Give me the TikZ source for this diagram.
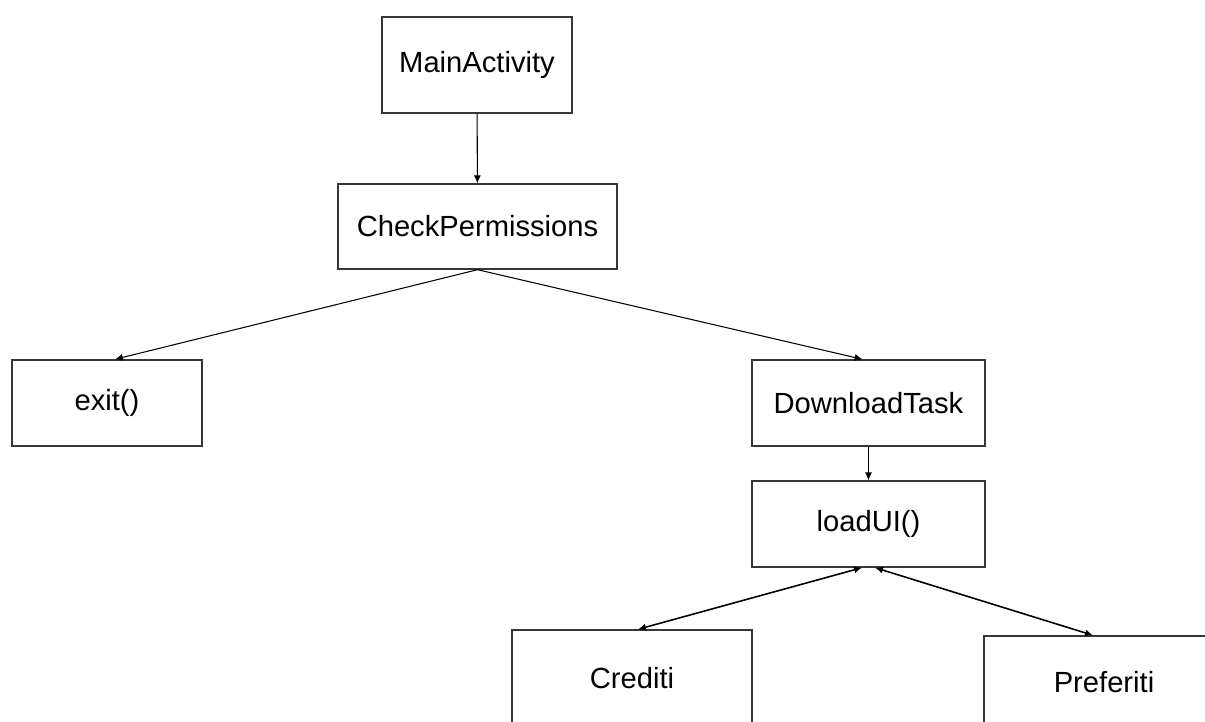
\documentclass[tikz,border=0pt]{standalone}
\usepackage{fontspec}
\setmainfont{Liberation Sans}
\usepackage{tikz}
\usepackage{xcolor}
\usetikzlibrary{arrows.meta}

\definecolor{boxline}{RGB}{55,55,55}

\begin{document}
\begin{tikzpicture}[x=0.02cm, y=-0.02cm,
    every node/.style={rectangle, draw=boxline, line width=0.8pt, inner sep=0pt,
        font=\fontsize{16.6}{19}\selectfont},
    flow/.style={line width=0.6pt, -{Latex[length=4.5pt,width=4pt]}},
    twoway/.style={line width=0.9pt, {Latex[length=4.5pt,width=4pt]}-{Latex[length=4.5pt,width=4pt]}}]
    \clip (0,0) rectangle (1205,722);

    \node[minimum width=3.8cm, minimum height=1.92cm] (main) at (477,65) {MainActivity};
    \node[minimum width=5.58cm, minimum height=1.7cm] (perm) at (477.5,226.5) {CheckPermissions};
    \node[minimum width=3.8cm, minimum height=1.72cm] (exit) at (107,403) {exit()};
    \node[minimum width=4.66cm, minimum height=1.72cm] (dl) at (868.5,403) {DownloadTask};
    \node[minimum width=4.66cm, minimum height=1.72cm] (ui) at (868.5,524) {loadUI()};
    \node[minimum width=4.8cm, minimum height=1.92cm] (cred) at (632,678) {Crediti};
    \node[minimum width=4.8cm, minimum height=1.84cm] (pref) at (1104,682) {Preferiti};

    \draw[flow] (main) -- (perm);
    \draw[flow] (perm.south) -- ([xshift=0.16cm]exit.north);
    \draw[flow] (perm.south) -- ([xshift=-0.12cm]dl.north);
    \draw[flow] (dl) -- (ui);
    % both ways between the UI and the two screens
    \draw[twoway] ([xshift=-0.13cm]ui.south) -- ([xshift=0.12cm]cred.north);
    \draw[twoway] ([xshift=0.13cm]ui.south) -- ([xshift=-0.22cm]pref.north);
\end{tikzpicture}
\end{document}
